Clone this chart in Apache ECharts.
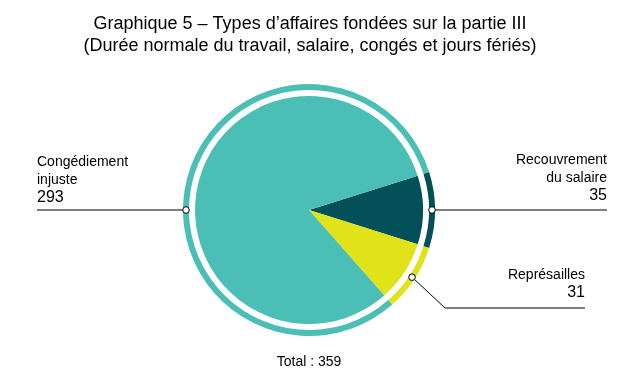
<!DOCTYPE html>
<html><head><meta charset="utf-8">
<script src="https://cdn.jsdelivr.net/npm/echarts@6/dist/echarts.min.js"></script>
<style>html,body{margin:0;padding:0;background:#fff}#c{width:644px;height:378px}</style>
</head><body><div id="c"></div>
<script>
const categories = ['Recouvrement\ndu salaire', 'Représailles', 'Congédiement\ninjuste'];
const values = [35, 31, 293];
const colors = ['#035058', '#E0E21A', '#4BBFB5'];
const titleLines = ['Graphique 5 – Types d’affaires fondées sur la partie III', '(Durée normale du travail, salaire, congés et jours fériés)'];

const total = values.reduce((a, b) => a + b, 0);
const cx = 309, cy = 210, rAnchor = 123;
const startAngle = values[0] / total * 360 / 2;
const mids = [];
let cum = 0;
values.forEach(v => { mids.push(startAngle - (cum + v / 2) / total * 360); cum += v; });
mids[2] = 180; // anchor of the large slice placed on the horizontal
const anchors = mids.map(a => [cx + rAnchor * Math.cos(a * Math.PI / 180), cy - rAnchor * Math.sin(a * Math.PI / 180)]);

const labelPos = [
  {x: 607, y: 205, align: 'right', pts: (p) => [p, [520, p[1]], [607, p[1]]]},
  {x: 585, y: 302, align: 'right', pts: (p) => [p, [445, 308], [585, 308]]},
  {x: 37, y: 207, align: 'left', pts: (p) => [p, [120, p[1]], [37, p[1]]]}
];

const data = categories.map((c, i) => ({name: c, value: values[i], itemStyle: {color: colors[i]}}));
const font = 'Liberation Sans, Arial, sans-serif';

const chart = echarts.init(document.getElementById('c'));
chart.setOption({
  animation: false,
  graphic: [
    {type: 'text', x: 310, y: 15, style: {text: titleLines[0], font: '18px ' + font, fill: '#000', textAlign: 'center'}},
    {type: 'text', x: 310, y: 37, style: {text: titleLines[1], font: '18px ' + font, fill: '#000', textAlign: 'center'}},
    {type: 'text', x: 309, y: 355, style: {text: 'Total : ' + total, font: '14px ' + font, fill: '#000', textAlign: 'center'}}
  ].concat(anchors.map(p => ({
    type: 'circle', shape: {cx: p[0], cy: p[1], r: 3.3}, z: 100,
    style: {fill: '#fff', stroke: '#000', lineWidth: 1}
  }))),
  series: [
    {
      type: 'pie', center: [cx, cy], radius: [0, 114], startAngle: startAngle, clockwise: true,
      silent: true, label: {show: false}, labelLine: {show: false}, data: data
    },
    {
      type: 'pie', center: [cx, cy], radius: [120, 126], startAngle: startAngle, clockwise: true,
      silent: true, data: data,
      label: {
        show: true, position: 'outside', fontFamily: font, color: '#000',
        formatter: (p) => '{n|' + p.name + '}\n{v|' + p.value + '}',
        rich: {
          n: {fontFamily: font, fontSize: 14, lineHeight: 18, color: '#000'},
          v: {fontFamily: font, fontSize: 16, lineHeight: 18, color: '#000'}
        }
      },
      labelLine: {show: true, lineStyle: {color: '#000', width: 1}},
      labelLayout: (params) => {
        const i = params.dataIndex;
        const lp = labelPos[i];
        return {x: lp.x, y: lp.y, align: lp.align, verticalAlign: 'bottom', labelLinePoints: lp.pts(anchors[i])};
      }
    }
  ]
});
</script></body></html>
